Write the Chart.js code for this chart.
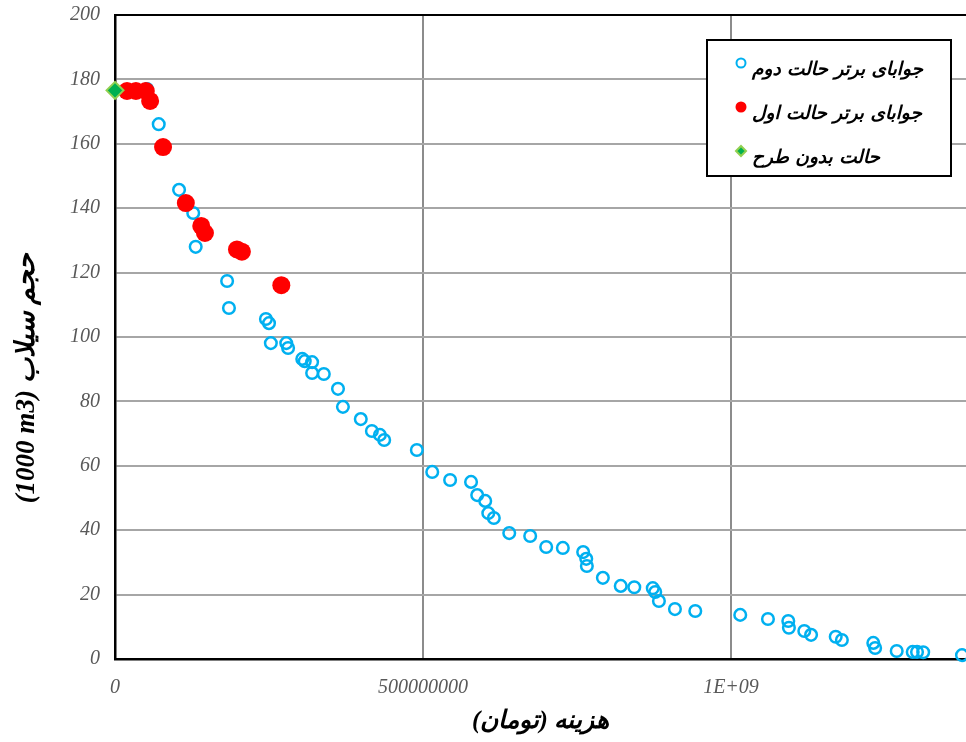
<!DOCTYPE html>
<html>
<head>
<meta charset="utf-8">
<script src="https://cdn.jsdelivr.net/npm/chart.js@4.4.1/dist/chart.umd.min.js"></script>
<style>
  html, body { margin: 0; padding: 0; background: #fff; overflow: hidden; }
  canvas { display: block; }
</style>
</head>
<body>
<canvas id="c" width="966" height="742"></canvas>
<script>
// Second-scenario optimal solutions: cost (toman) and flood volume (1000 m3)
const costSecond = [
  52e6, 71e6, 104e6, 127e6, 131e6, 182e6, 185e6, 245e6, 250e6, 253e6,
  278e6, 281e6, 304e6, 308e6, 320e6, 320e6, 339e6, 362e6, 370e6, 399e6,
  417e6, 430e6, 437e6, 490e6, 515e6, 544e6, 578e6, 588e6, 601e6, 606e6,
  615e6, 640e6, 674e6, 700e6, 727e6, 760e6, 765e6, 766e6, 792e6, 821e6,
  843e6, 873e6, 877e6, 883e6, 909e6, 942e6, 1015e6, 1060e6, 1093e6, 1094e6,
  1119e6, 1130e6, 1170e6, 1180e6, 1231e6, 1234e6, 1269e6, 1295e6, 1302e6, 1312e6,
  1375e6
];
const floodSecond = [
  177.0, 166.1, 145.7, 138.5, 128.0, 117.4, 109.0, 105.6, 104.3, 98.1,
  98.1, 96.6, 93.2, 92.5, 92.2, 88.8, 88.5, 83.9, 78.3, 74.5,
  70.8, 69.6, 68.0, 64.9, 58.1, 55.6, 55.0, 50.9, 49.1, 45.3,
  43.8, 39.1, 38.2, 34.8, 34.5, 33.2, 31.1, 28.9, 25.2, 22.7,
  22.3, 22.0, 20.8, 18.0, 15.5, 14.9, 13.7, 12.4, 11.8, 9.7,
  8.7, 7.5, 6.9, 5.9, 5.0, 3.4, 2.5, 2.2, 2.2, 2.1,
  1.2
];

// First-scenario optimal solutions
const costFirst  = [19.5e6, 34e6, 50e6, 57e6, 78e6, 115e6, 140e6, 146e6, 198e6, 206e6, 270e6];
const floodFirst = [176.4, 176.4, 176.4, 173.3, 159.0, 141.6, 134.5, 132.3, 127.2, 126.5, 116.1];

// Baseline (no project)
const costBase  = [0];
const floodBase = [176.6];

const seriesNames = ['جوابای برتر حالت دوم', 'جوابای برتر حالت اول', 'حالت بدون طرح'];
const xTickValues = [0, 500000000, 1000000000];
const xTickLabels = ['0', '500000000', '1E+09'];
const xTitle = 'هزینه (تومان)';
const yTitle = '(1000 m3) حجم سیلاب';

const toPoints = (xs, ys) => xs.map((x, i) => ({ x: x, y: ys[i] }));

const tickFont = { family: '"Liberation Serif", "Times New Roman", serif', style: 'italic', size: 20 };
const titleFamily = '"Liberation Serif", "DejaVu Sans", serif';

// Keep the plot area flush with the layout padding (no room reserved for overhanging labels)
const noScalePadding = (s) => {
  s.paddingTop = 0; s.paddingBottom = 0; s.paddingLeft = 0; s.paddingRight = 0;
};

// Black frame line along the top of the plot area, plus the vertical axis title
const frameAndTitle = {
  id: 'frameAndTitle',
  afterDraw(chart) {
    const { ctx, chartArea: a } = chart;
    ctx.save();
    ctx.strokeStyle = '#000';
    ctx.lineWidth = 2;
    ctx.beginPath();
    ctx.moveTo(a.left, a.top);
    ctx.lineTo(a.right, a.top);
    ctx.stroke();

    ctx.translate(27, chart.height / 2 + 7);
    ctx.rotate(-Math.PI / 2);
    ctx.fillStyle = '#000';
    ctx.font = 'italic bold 27px ' + titleFamily;
    ctx.textAlign = 'center';
    ctx.textBaseline = 'middle';
    ctx.fillText(yTitle, 0, 0);
    ctx.restore();
  }
};

// Boxed legend inside the upper-right of the plot area
const boxedLegend = {
  id: 'boxedLegend',
  afterDraw(chart) {
    const { ctx, chartArea: a } = chart;
    const bx = a.right - 259, by = a.top + 25, bw = 244, bh = 136;
    ctx.save();
    ctx.fillStyle = '#fff';
    ctx.fillRect(bx, by, bw, bh);
    ctx.strokeStyle = '#000';
    ctx.lineWidth = 2;
    ctx.strokeRect(bx, by, bw, bh);
    const order = [2, 1, 0];
    const markerSize = [4.5, 5.5, 5];
    order.forEach((di, row) => {
      const ds = chart.data.datasets[di];
      const my = by + 23 + row * 44;
      const mx = bx + 34;
      ctx.fillStyle = ds.backgroundColor;
      ctx.strokeStyle = ds.borderColor;
      Chart.helpers.drawPoint(ctx, {
        pointStyle: ds.pointStyle,
        radius: markerSize[row],
        borderWidth: di === 2 ? 2 : (di === 0 ? 1.5 : 0),
        rotation: 0
      }, mx, my);
      ctx.fillStyle = '#000';
      ctx.font = 'italic bold 18.5px "DejaVu Sans", sans-serif';
      ctx.textAlign = 'left';
      ctx.textBaseline = 'middle';
      ctx.fillText(ds.label, mx + 11, my + 7);
    });
    ctx.restore();
  }
};

new Chart(document.getElementById('c'), {
  type: 'scatter',
  data: {
    datasets: [
      {
        label: seriesNames[2],
        data: toPoints(costBase, floodBase),
        pointStyle: 'rectRot',
        radius: 8.5,
        borderWidth: 2,
        backgroundColor: '#00B050',
        borderColor: '#92D050',
        clip: false
      },
      {
        label: seriesNames[1],
        data: toPoints(costFirst, floodFirst),
        pointStyle: 'circle',
        radius: 9,
        borderWidth: 0,
        backgroundColor: '#FF0000',
        borderColor: '#FF0000',
        clip: false
      },
      {
        label: seriesNames[0],
        data: toPoints(costSecond, floodSecond),
        pointStyle: 'circle',
        radius: 5.8,
        borderWidth: 2.5,
        backgroundColor: 'rgba(0,0,0,0)',
        borderColor: '#00B0F0',
        clip: false
      }
    ]
  },
  options: {
    responsive: false,
    animation: false,
    layout: { autoPadding: false, padding: { top: 15, right: 0, bottom: 0, left: 0 } },
    plugins: {
      legend: { display: false },
      tooltip: { enabled: false }
    },
    scales: {
      x: {
        type: 'linear',
        min: 0,
        max: 1381500000,
        afterBuildTicks: (s) => { s.ticks = xTickValues.map(v => ({ value: v })); },
        afterFit: (s) => { s.height = 83; noScalePadding(s); },
        ticks: {
          autoSkip: false,
          maxRotation: 0,
          padding: 17,
          color: '#595959',
          font: tickFont,
          callback: (v) => xTickLabels[xTickValues.indexOf(v)]
        },
        grid: {
          drawTicks: false,
          lineWidth: 2,
          color: (c) => (c.tick && c.tick.value === 0) ? 'rgba(0,0,0,0)' : '#8c8c8c'
        },
        border: { color: '#000', width: 2.5 },
        title: {
          display: true,
          text: xTitle,
          color: '#000',
          font: { family: titleFamily, style: 'italic', weight: 'bold', size: 25 },
          padding: { top: 0, bottom: 5 }
        }
      },
      y: {
        min: 0,
        max: 200,
        afterFit: (s) => { s.width = 115; noScalePadding(s); },
        ticks: {
          stepSize: 20,
          padding: 15,
          color: '#595959',
          font: tickFont
        },
        grid: {
          drawTicks: false,
          lineWidth: 2,
          color: (c) => (c.tick && (c.tick.value === 0 || c.tick.value === 200)) ? 'rgba(0,0,0,0)' : '#a6a6a6'
        },
        border: { color: '#000', width: 2.5 }
      }
    }
  },
  plugins: [frameAndTitle, boxedLegend]
});
</script>
</body>
</html>
